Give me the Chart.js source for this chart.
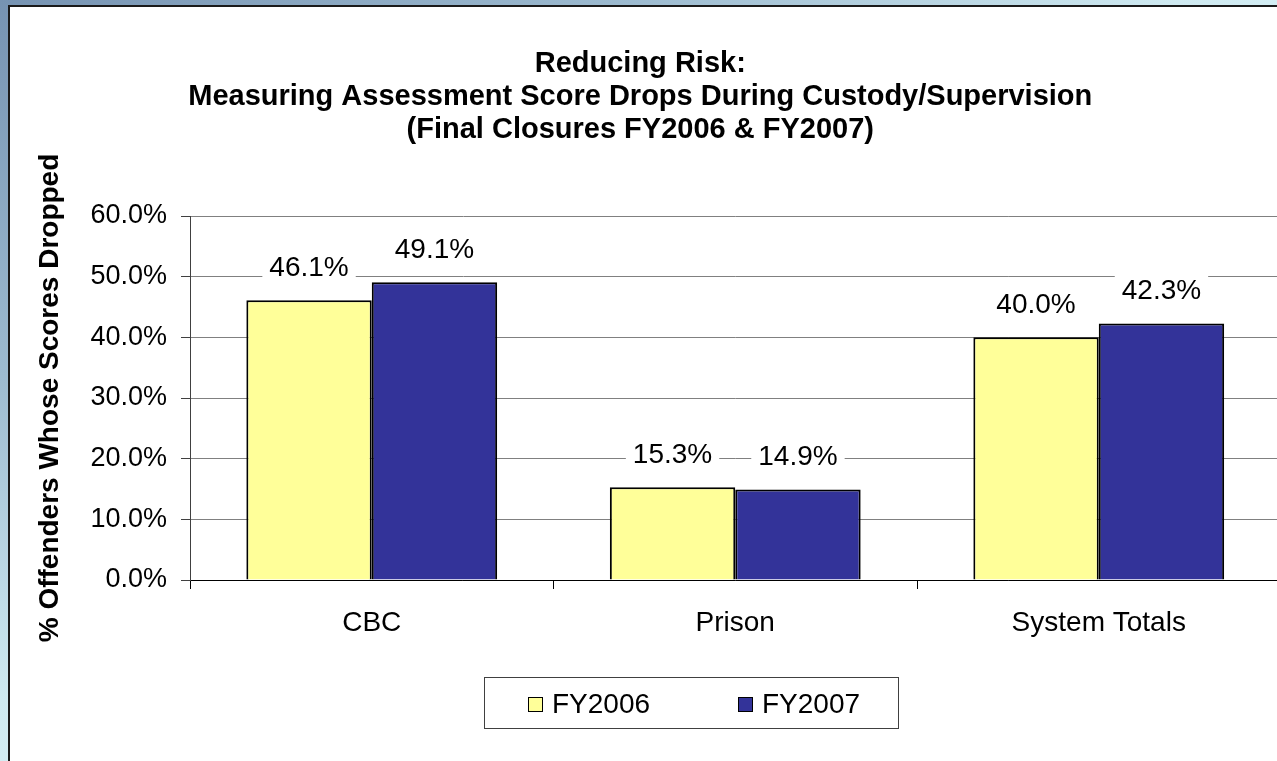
<!DOCTYPE html>
<html>
<head>
<meta charset="utf-8">
<script src="https://cdn.jsdelivr.net/npm/chart.js@4"></script>
<style>
  html, body { margin: 0; padding: 0; width: 1277px; height: 761px; overflow: hidden; }
  body { position: relative; background: radial-gradient(ellipse at 0 0, #7693b2 0%, #9dbbd0 35%, #cfeaf1 65%, #e4fbfe 100%); }
  #frame { position: absolute; left: 8px; top: 5px; width: 1300px; height: 800px; background: #fff; border-left: 2px solid #1a1a1a; border-top: 2px solid #1a1a1a; }
  #wrap { position: absolute; left: 0; top: 0; width: 1290px; height: 761px; }
  #legend { position: absolute; left: 484px; top: 677px; width: 413px; height: 50px; border: 1px solid #404040; background: #fff; font: 28px "Liberation Sans", Arial, sans-serif; color: #000; }
  #legend .item { position: absolute; top: 0; height: 52px; display: flex; align-items: center; }
  #legend .sw { width: 13px; height: 13px; border: 1.5px solid #000; margin-right: 9px; }
</style>
</head>
<body>
<div id="frame"></div>
<div id="wrap"><canvas id="c"></canvas></div>
<div id="legend"></div>
<script>
// data
const categories = ['CBC', 'Prison', 'System Totals'];
const seriesNames = ['FY2006', 'FY2007'];
const fy2006 = [46.1, 15.3, 40.0];
const fy2007 = [49.1, 14.9, 42.3];
const seriesColors = ['#FFFF99', '#333399'];
const titleLines = ['Reducing Risk:', 'Measuring Assessment Score Drops During Custody/Supervision', '(Final Closures FY2006 & FY2007)'];
const yTitle = '% Offenders Whose Scores Dropped';

const FONT = '"Liberation Sans", Arial, sans-serif';

// value labels on white boxes (they cut the gridlines like the original)
const valueLabels = {
  id: 'valueLabels',
  afterDatasetsDraw(chart) {
    const ctx = chart.ctx;
    ctx.save();
    ctx.font = '28px ' + FONT;
    ctx.textAlign = 'center';
    ctx.textBaseline = 'middle';
    chart.data.datasets.forEach((ds, i) => {
      chart.getDatasetMeta(i).data.forEach((bar, j) => {
        const txt = ds.data[j].toFixed(1) + '%';
        const w = ctx.measureText(txt).width;
        const cy = bar.y - 33;
        ctx.fillStyle = '#fff';
        ctx.fillRect(bar.x - w / 2 - 7, cy - 15, w + 14, 30);
        ctx.fillStyle = '#000';
        ctx.fillText(txt, bar.x, cy + 1);
      });
    });
    ctx.restore();
  }
};

const chart = new Chart(document.getElementById('c'), {
  type: 'bar',
  data: {
    labels: categories,
    datasets: [
      { label: seriesNames[0], data: fy2006, backgroundColor: seriesColors[0], borderColor: '#000', borderWidth: 2 },
      { label: seriesNames[1], data: fy2007, backgroundColor: seriesColors[1], borderColor: '#000', borderWidth: 2 }
    ]
  },
  options: {
    responsive: true, maintainAspectRatio: false, animation: false,
    categoryPercentage: 0.69, barPercentage: 1,
    layout: { padding: { left: 0, right: 9.5, top: 0, bottom: 0 } },
    plugins: {
      legend: { display: false },
      tooltip: { enabled: false },
      title: {
        display: true, text: titleLines, color: '#000',
        font: { family: FONT, size: 29, weight: 'bold', lineHeight: 33 / 29 },
        padding: { top: 47, bottom: 70 }
      }
    },
    scales: {
      x: {
        afterFit: s => { s.height = 181; },
        grid: { drawOnChartArea: false, drawTicks: true, tickLength: 9, offset: true, color: '#000' },
        border: { color: '#000', width: 1 },
        ticks: { color: '#000', padding: 17, font: { family: FONT, size: 28 } }
      },
      y: {
        min: 0, max: 60,
        afterFit: s => { s.width = 190; },
        grid: { color: '#808080', tickColor: '#404040', tickLength: 9 },
        border: { color: '#404040', width: 1 },
        ticks: { stepSize: 10, color: '#000', padding: 14, font: { family: FONT, size: 27 },
                 callback: v => v.toFixed(1) + '%' },
        title: { display: true, text: yTitle, color: '#000', padding: { top: 33, bottom: 0 },
                 font: { family: FONT, size: 28, weight: 'bold' } }
      }
    }
  },
  plugins: [valueLabels]
});

// boxed legend under the plot, built from the chart's own legend items
const legendEl = document.getElementById('legend');
const itemLefts = [43, 253];
chart.options.plugins.legend.labels.generateLabels(chart).forEach((it, i) => {
  const d = document.createElement('div');
  d.className = 'item';
  d.style.left = itemLefts[i] + 'px';
  d.innerHTML = '<span class="sw" style="background:' + it.fillStyle + '"></span><span>' + it.text + '</span>';
  legendEl.append(d);
});
</script>
</body>
</html>
